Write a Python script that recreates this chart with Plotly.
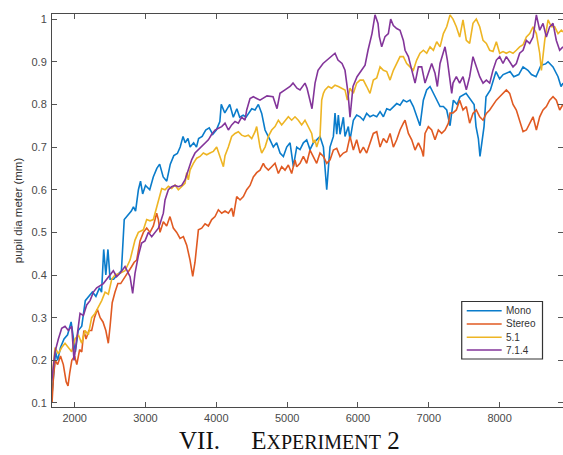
import plotly.graph_objects as go

# Pupil diameter traces per playback format: (time, diameter in mm)
mono = [(1680,0.12),(1700,0.17),(1730,0.22),(1760,0.20),(1800,0.23),(1850,0.25),(1900,0.26),(1950,0.29),
        (1980,0.25),(2010,0.22),(2050,0.27),(2100,0.28),(2150,0.34),(2200,0.35),(2250,0.36),(2300,0.35),
        (2350,0.37),(2380,0.36),(2410,0.46),(2440,0.40),(2470,0.46),(2500,0.39),(2550,0.39),(2600,0.40),
        (2660,0.41),(2700,0.53),(2750,0.54),(2800,0.55),(2830,0.56),(2860,0.55),(2900,0.60),(2930,0.62),
        (2960,0.59),(3000,0.61),(3060,0.60),(3110,0.63),(3160,0.65),(3200,0.66),(3250,0.63),(3300,0.62),
        (3350,0.66),(3400,0.68),(3450,0.685),(3490,0.70),(3530,0.725),(3560,0.71),(3600,0.72),(3630,0.70),
        (3680,0.71),(3720,0.70),(3750,0.72),(3800,0.725),(3850,0.74),(3900,0.745),(3950,0.73),(4000,0.74),
        (4050,0.76),(4070,0.80),(4120,0.78),(4190,0.80),(4240,0.77),(4290,0.79),(4330,0.77),(4380,0.775),
        (4420,0.77),(4460,0.78),(4500,0.79),(4547,0.787),(4594,0.80),(4641,0.779),(4688,0.74),(4758,0.717),
        (4805,0.70),(4852,0.71),(4900,0.686),(4947,0.678),(4994,0.70),(5041,0.71),(5088,0.654),(5135,0.70),
        (5182,0.694),(5229,0.71),(5276,0.717),(5323,0.694),(5370,0.71),(5417,0.717),(5464,0.725),(5512,0.70),
        (5559,0.60),(5582,0.65),(5605,0.70),(5653,0.725),(5676,0.78),(5700,0.73),(5723,0.775),(5747,0.73),
        (5794,0.77),(5817,0.725),(5864,0.748),(5888,0.717),(5935,0.763),(5982,0.775),(6029,0.771),(6076,0.763),
        (6123,0.779),(6170,0.771),(6217,0.775),(6265,0.771),(6312,0.783),(6359,0.771),(6406,0.79),(6453,0.787),
        (6500,0.795),(6547,0.802),(6594,0.798),(6641,0.81),(6688,0.806),(6735,0.81),(6782,0.795),(6829,0.771),
        (6876,0.75),(6923,0.81),(6970,0.834),(7018,0.842),(7065,0.826),(7112,0.81),(7159,0.795),(7206,0.795),
        (7253,0.787),(7300,0.75),(7324,0.779),(7347,0.81),(7400,0.80),(7441,0.818),(7526,0.826),(7596,0.81),
        (7640,0.80),(7667,0.748),(7700,0.72),(7723,0.678),(7750,0.71),(7780,0.748),(7808,0.818),(7870,0.834),
        (7949,0.877),(8000,0.86),(8050,0.87),(8147,0.877),(8200,0.865),(8270,0.87),(8331,0.888),(8400,0.88),
        (8450,0.87),(8514,0.865),(8585,0.892),(8650,0.895),(8684,0.90),(8754,0.888),(8825,0.865),(8867,0.842),
        (8895,0.85)]

stereo = [(1680,0.10),(1700,0.16),(1725,0.20),(1760,0.19),(1800,0.21),(1840,0.19),(1880,0.15),(1906,0.14),
          (1930,0.17),(1960,0.20),(2000,0.21),(2030,0.19),(2070,0.225),(2100,0.22),(2130,0.27),(2160,0.25),
          (2200,0.27),(2240,0.27),(2280,0.30),(2320,0.32),(2360,0.30),(2400,0.29),(2440,0.27),(2475,0.24),
          (2500,0.28),(2530,0.335),(2570,0.36),(2610,0.38),(2650,0.38),(2690,0.39),(2735,0.40),(2770,0.41),
          (2805,0.42),(2840,0.43),(2876,0.435),(2923,0.48),(2970,0.50),(3017,0.51),(3064,0.50),(3111,0.515),
          (3158,0.545),(3182,0.53),(3205,0.50),(3252,0.525),(3299,0.515),(3346,0.537),(3393,0.51),(3441,0.50),
          (3488,0.486),(3535,0.49),(3582,0.47),(3629,0.435),(3667,0.397),(3699,0.43),(3747,0.506),(3794,0.51),
          (3841,0.52),(3888,0.515),(3935,0.53),(3982,0.537),(4029,0.553),(4076,0.545),(4123,0.55),(4170,0.545),
          (4217,0.557),(4241,0.537),(4288,0.584),(4335,0.576),(4382,0.584),(4429,0.60),(4476,0.61),(4523,0.63),
          (4570,0.64),(4617,0.646),(4664,0.662),(4688,0.654),(4735,0.646),(4782,0.654),(4829,0.662),(4876,0.638),
          (4923,0.654),(4970,0.646),(5017,0.658),(5064,0.638),(5111,0.67),(5135,0.654),(5182,0.662),(5229,0.678),
          (5276,0.662),(5323,0.693),(5370,0.678),(5417,0.662),(5464,0.686),(5512,0.678),(5559,0.662),(5606,0.67),
          (5653,0.693),(5700,0.697),(5747,0.678),(5794,0.686),(5841,0.69),(5888,0.725),(5935,0.693),(5982,0.717),
          (6029,0.686),(6076,0.70),(6123,0.686),(6170,0.71),(6217,0.732),(6265,0.736),(6312,0.70),(6359,0.72),
          (6406,0.71),(6453,0.732),(6500,0.70),(6547,0.717),(6594,0.74),(6641,0.756),(6665,0.763),(6712,0.732),
          (6759,0.717),(6806,0.693),(6853,0.71),(6900,0.693),(6924,0.678),(6947,0.732),(6994,0.748),(7041,0.74),
          (7088,0.717),(7135,0.74),(7182,0.732),(7229,0.74),(7277,0.756),(7300,0.78),(7342,0.78),(7389,0.787),
          (7436,0.81),(7483,0.787),(7530,0.795),(7577,0.756),(7624,0.779),(7671,0.787),(7719,0.771),(7766,0.763),
          (7813,0.779),(7860,0.787),(7907,0.80),(7954,0.81),(8001,0.818),(8048,0.826),(8095,0.834),(8142,0.826),
          (8189,0.80),(8236,0.787),(8283,0.763),(8331,0.736),(8378,0.74),(8425,0.756),(8472,0.771),(8519,0.74),
          (8566,0.771),(8613,0.787),(8660,0.795),(8707,0.81),(8754,0.818),(8801,0.81),(8848,0.787),(8895,0.80)]

surround_51 = [(1676,0.15),(1723,0.23),(1770,0.215),(1817,0.23),(1864,0.24),(1911,0.23),(1958,0.22),(2005,0.25),
               (2052,0.26),(2099,0.24),(2146,0.27),(2193,0.26),(2240,0.30),(2287,0.31),(2334,0.326),(2382,0.34),
               (2429,0.36),(2476,0.355),(2523,0.39),(2570,0.40),(2640,0.404),(2711,0.41),(2782,0.435),(2852,0.482),
               (2899,0.50),(2970,0.506),(3017,0.53),(3064,0.527),(3111,0.53),(3158,0.56),(3205,0.59),(3229,0.603),
               (3276,0.60),(3323,0.608),(3370,0.603),(3417,0.611),(3464,0.60),(3511,0.608),(3558,0.615),(3582,0.64),
               (3605,0.623),(3629,0.646),(3652,0.654),(3676,0.662),(3723,0.674),(3770,0.678),(3817,0.686),(3864,0.682),
               (3911,0.686),(3958,0.69),(4005,0.70),(4052,0.678),(4100,0.654),(4123,0.68),(4170,0.70),(4217,0.725),
               (4264,0.732),(4311,0.736),(4358,0.728),(4405,0.725),(4452,0.728),(4500,0.72),(4547,0.736),(4570,0.748),
               (4594,0.717),(4617,0.70),(4641,0.686),(4688,0.70),(4735,0.725),(4782,0.74),(4829,0.748),(4876,0.763),
               (4923,0.752),(4970,0.763),(5017,0.771),(5064,0.763),(5111,0.771),(5158,0.763),(5205,0.752),(5252,0.763),
               (5299,0.748),(5347,0.732),(5370,0.71),(5394,0.717),(5417,0.70),(5464,0.725),(5488,0.81),(5512,0.826),
               (5535,0.834),(5582,0.842),(5629,0.838),(5676,0.845),(5723,0.842),(5770,0.838),(5817,0.834),(5850,0.81),
               (5888,0.838),(5935,0.826),(5982,0.85),(6029,0.857),(6076,0.857),(6123,0.842),(6170,0.826),(6217,0.857),
               (6265,0.862),(6312,0.888),(6359,0.88),(6406,0.877),(6453,0.857),(6500,0.88),(6547,0.896),(6594,0.912),
               (6641,0.912),(6688,0.896),(6735,0.888),(6782,0.88),(6829,0.904),(6876,0.92),(6924,0.927),(6971,0.92),
               (7018,0.935),(7065,0.927),(7112,0.947),(7159,0.935),(7206,0.966),(7253,0.982),(7300,1.01),(7342,1.0),
               (7389,0.982),(7436,0.958),(7483,0.998),(7530,0.95),(7577,0.943),(7624,0.99),(7671,1.0),(7719,0.982),
               (7766,0.95),(7813,0.943),(7860,0.927),(7907,0.924),(7954,0.947),(8001,0.92),(8048,0.924),(8095,0.92),
               (8142,0.924),(8189,0.92),(8236,0.927),(8283,0.935),(8331,0.94),(8378,0.958),(8425,0.966),(8472,0.982),
               (8519,0.966),(8566,0.92),(8590,0.88),(8637,0.95),(8684,0.998),(8731,0.982),(8778,0.982),(8825,0.966),
               (8872,0.974),(8895,0.97)]

surround_714 = [(1676,0.15),(1723,0.22),(1770,0.25),(1817,0.275),(1864,0.28),(1911,0.27),(1958,0.28),(1991,0.20),
                (2029,0.25),(2076,0.31),(2123,0.305),(2170,0.33),(2217,0.34),(2264,0.36),(2311,0.37),(2358,0.375),
                (2405,0.38),(2452,0.39),(2499,0.40),(2546,0.41),(2593,0.396),(2640,0.404),(2711,0.42),(2782,0.396),
                (2819,0.357),(2852,0.404),(2899,0.445),(2946,0.475),(2993,0.48),(3041,0.50),(3088,0.49),(3135,0.50),
                (3182,0.51),(3205,0.52),(3252,0.545),(3276,0.576),(3323,0.60),(3370,0.607),(3417,0.61),(3464,0.607),
                (3511,0.61),(3558,0.623),(3605,0.646),(3652,0.67),(3699,0.686),(3747,0.694),(3794,0.70),(3841,0.71),
                (3888,0.717),(3935,0.73),(3982,0.74),(4029,0.744),(4076,0.748),(4123,0.756),(4170,0.74),(4217,0.752),
                (4264,0.76),(4311,0.756),(4358,0.77),(4405,0.763),(4429,0.787),(4476,0.814),(4523,0.818),(4570,0.814),
                (4617,0.81),(4716,0.82),(4801,0.818),(4857,0.79),(4899,0.826),(4970,0.834),(5041,0.842),(5083,0.85),
                (5139,0.838),(5182,0.834),(5252,0.85),(5281,0.838),(5351,0.79),(5394,0.85),(5436,0.88),(5507,0.896),
                (5563,0.904),(5634,0.912),(5676,0.92),(5718,0.904),(5775,0.896),(5817,0.88),(5860,0.826),(5888,0.77),
                (5930,0.842),(5987,0.865),(6057,0.88),(6100,0.892),(6142,0.927),(6198,0.966),(6241,1.01),(6283,0.99),
                (6302,0.959),(6335,0.935),(6382,0.959),(6429,0.966),(6462,1.0),(6500,0.985),(6547,0.978),(6594,0.974),
                (6641,0.95),(6665,0.927),(6712,0.912),(6759,0.88),(6806,0.85),(6853,0.888),(6900,0.888),(6947,0.85),
                (6994,0.873),(7041,0.896),(7088,0.873),(7121,0.842),(7159,0.896),(7206,0.927),(7229,0.935),(7262,0.904),
                (7300,0.85),(7324,0.826),(7342,0.85),(7389,0.865),(7436,0.85),(7483,0.865),(7530,0.834),(7577,0.865),
                (7624,0.912),(7671,0.888),(7719,0.865),(7766,0.85),(7813,0.857),(7860,0.85),(7907,0.881),(7954,0.904),
                (8001,0.912),(8048,0.896),(8095,0.912),(8142,0.90),(8189,0.888),(8236,0.896),(8283,0.92),(8331,0.927),
                (8378,0.95),(8425,0.943),(8472,0.958),(8519,1.01),(8566,0.974),(8613,0.99),(8660,0.958),(8707,0.982),
                (8754,0.99),(8801,0.95),(8848,0.927),(8895,0.935)]

series_names = ["Mono", "Stereo", "5.1", "7.1.4"]
series_colors = ["#0a7ccb", "#e05a22", "#eeb524", "#83359a"]

x_ticks = [2000, 3000, 4000, 5000, 6000, 7000, 8000]
y_ticks = [0.1, 0.2, 0.3, 0.4, 0.5, 0.6, 0.7, 0.8, 0.9, 1.0]
y_tick_text = ["0.1", "0.2", "0.3", "0.4", "0.5", "0.6", "0.7", "0.8", "0.9", "1"]

SANS = "Liberation Sans, Arial, sans-serif"

fig = go.Figure()
for name, color, pts in zip(series_names, series_colors, [mono, stereo, surround_51, surround_714]):
    xs, ys = zip(*pts)
    fig.add_trace(go.Scatter(x=list(xs), y=list(ys), mode="lines", name=name,
                             line=dict(color=color, width=1.6), showlegend=False))

axis_common = dict(
    showgrid=False, zeroline=False, showline=True, linecolor="#4a4a4a", linewidth=1,
    mirror="ticks", ticks="inside", ticklen=5, tickcolor="#555555", tickwidth=1,
    tickfont=dict(family=SANS, size=11, color="#4a4a4a"),
)

fig.update_layout(
    width=563, height=455,
    margin=dict(l=52, r=0, t=14, b=48),
    paper_bgcolor="white", plot_bgcolor="white",
    xaxis=dict(range=[1680, 8895], tickvals=x_ticks, ticklabelstandoff=1, **axis_common),
    yaxis=dict(range=[0.0906, 1.012], tickvals=y_ticks, ticktext=y_tick_text, ticklabelstandoff=2,
               title=dict(text="pupil dia meter (mm)", standoff=6,
                          font=dict(family=SANS, size=11.5, color="#333333")),
               **axis_common),
    showlegend=False,
)

# Compact boxed legend in the lower-right corner of the axes (paper coordinates)
leg_x0, leg_x1 = 0.8018, 0.9599
leg_y0, leg_y1 = 0.1221, 0.2684
fig.add_shape(type="rect", xref="paper", yref="paper", x0=leg_x0, x1=leg_x1, y0=leg_y0, y1=leg_y1,
              line=dict(color="#333333", width=1.2), fillcolor="white", layer="above")
leg_rows = [0.2450, 0.2112, 0.1774, 0.1450]
for name, color, yrow in zip(series_names, series_colors, leg_rows):
    fig.add_shape(type="line", xref="paper", yref="paper", x0=0.8116, x1=0.8800, y0=yrow, y1=yrow,
                  line=dict(color=color, width=1.6), layer="above")
    fig.add_annotation(xref="paper", yref="paper", x=0.8855, y=yrow, xanchor="left", yanchor="middle",
                       text=name, showarrow=False,
                       font=dict(family=SANS, size=10, color="#333333"))

# Section caption beneath the axes
fig.add_annotation(
    xref="paper", yref="paper", x=(177 - 52) / 511, y=-0.085, xanchor="left", yanchor="middle",
    showarrow=False,
    text="VII.&nbsp;&nbsp;&nbsp;&nbsp;&nbsp;E<span style='font-size:20px'>XPERIMENT</span> 2",
    font=dict(family="Liberation Serif, Times New Roman, serif", size=25, color="#111111"),
)

fig.write_html("out.html")
